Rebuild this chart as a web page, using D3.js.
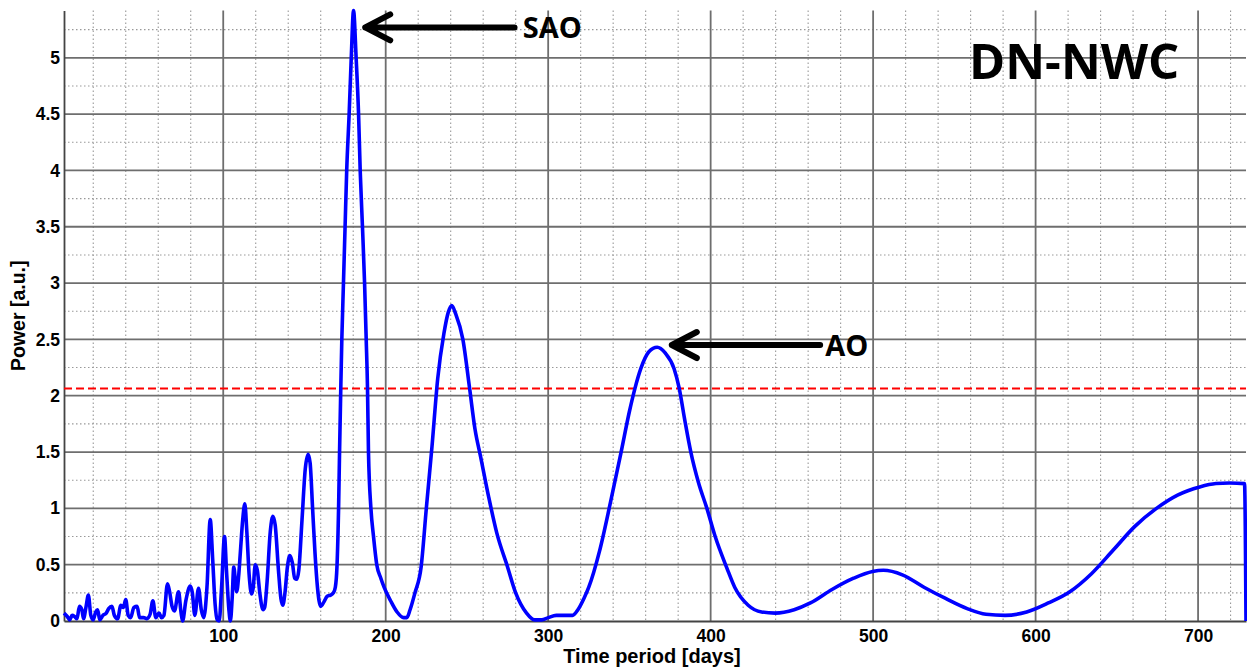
<!DOCTYPE html>
<html><head><meta charset="utf-8">
<script src="https://cdn.jsdelivr.net/npm/d3@7"></script>
<style>
html,body{margin:0;padding:0;background:#fff;}
svg{display:block;}
</style></head>
<body>
<svg id="chart" width="1247" height="671"></svg>
<script>
// ---- data ----
const periods = [2,4,5.5,7,8.5,10,11.5,13,14,15.5,17,18.5,20,21.5,22.7,24,26,28,29.5,31.5,33,35,37,38.5,40,41.5,43,45,47,48.5,51,53,55,56.7,58.5,60.5,62,63.5,65.7,67,68.5,70,72.5,74,75,77,79.7,81,82.5,84.8,86.5,88,90,92,93.5,95,96.3,97.5,99,100.8,102,103.5,104.4,105.5,106.5,107.5,108.3,109.5,110.5,112,113.3,114.5,116,117.5,118.5,119.7,121,122.5,124.5,125.5,127,129,130.6,132,134,135.5,136.7,138,139.5,141,142.5,144,145.3,146.5,148.5,150.5,152.3,153.5,155,156.5,158,160,162,164,166,167.8,169,170,171,171.6,172.4,173,174,175,176,177.5,178.8,180.2,181.8,183.3,184.3,185.7,187,188,188.8,189.4,190.9,192.5,194.5,197,199,203,207,211,213,215,218,221.8,225,228.5,232,235.8,238.5,240.7,243,247.5,251.6,255,258.4,263.4,268.4,275,280,286.7,291.7,296,300,305,311,315,318.3,322,325,331.6,338.3,344.9,350,353.5,357,362,367.1,372,377.5,380.6,384,387.8,392.5,397.7,402.8,410,414.8,423.1,431.4,439.8,451.4,461.4,474.7,488,499.7,506.3,518,531.3,544.6,557.9,569.5,581.2,594.5,607.8,621.1,634.4,647.8,661.1,674.4,687.7,701,711,719.3,728.6,729.5];
const power   = [0.07,0.04,0.01,0.05,0.04,0.02,0.13,0.1,0.02,0.12,0.23,0.05,0.01,0.08,0.10,0.01,0.05,0.07,0.11,0.13,0.05,0.02,0.14,0.12,0.19,0.05,0.03,0.12,0.13,0.03,0.03,0.02,0.06,0.18,0.03,0.07,0.03,0.05,0.33,0.26,0.13,0.09,0.26,0.08,0.0,0.18,0.31,0.25,0.05,0.29,0.1,0.03,0.3,0.9,0.55,0.15,0.01,0.0,0.3,0.75,0.45,0.1,0.0,0.2,0.48,0.35,0.26,0.4,0.6,0.9,1.04,0.8,0.4,0.24,0.3,0.5,0.45,0.25,0.1,0.12,0.35,0.8,0.93,0.85,0.45,0.2,0.14,0.25,0.48,0.58,0.52,0.38,0.37,0.45,0.9,1.35,1.48,1.4,1.0,0.6,0.3,0.13,0.17,0.22,0.23,0.25,0.3,0.48,1.0,1.5,2.1,2.5,3.0,3.5,4.0,4.5,5.0,5.42,5.0,4.5,4.0,3.5,3.0,2.5,2.07,1.5,1.0,0.75,0.5,0.38,0.3,0.18,0.08,0.03,0.03,0.1,0.25,0.48,1.0,1.55,2.15,2.55,2.74,2.8,2.73,2.5,2.07,1.7,1.46,1.1,0.78,0.48,0.25,0.07,0.01,0.01,0.03,0.05,0.05,0.05,0.1,0.2,0.3,0.62,1.05,1.5,1.86,2.07,2.24,2.39,2.43,2.38,2.24,2.07,1.79,1.5,1.23,1.0,0.75,0.47,0.3,0.14,0.08,0.07,0.1,0.16,0.28,0.38,0.44,0.45,0.41,0.3,0.2,0.11,0.06,0.05,0.08,0.16,0.26,0.42,0.63,0.84,1.0,1.12,1.19,1.22,1.225,1.22,0.0];
const threshold = 2.065;
const xTicks = [100,200,300,400,500,600,700];
const yTicks = [0,0.5,1,1.5,2,2.5,3,3.5,4,4.5,5];
const xMinor = [20,40,60,80,120,140,160,180,220,240,260,280,320,340,360,380,420,440,460,480,520,540,560,580,620,640,660,680,720];
const yMinor = [0.25,0.75,1.25,1.75,2.25,2.75,3.25,3.75,4.25,4.75,5.25];
const xLabel = "Time period [days]";
const yLabel = "Power [a.u.]";
const title = "DN-NWC";
const annotations = [
  {label:"SAO", tipX:187.4, y:5.27, tailX:279.3, textX:284.3, textY:5.175},
  {label:"AO",  tipX:376.1, y:2.45, tailX:467.4, textX:470.5, textY:2.352}
];

// ---- chart ----
const svg = d3.select("#chart");
const L = 64, R = 1246, T = 10.5, B = 621;
const x = d3.scaleLinear().domain([2, 729.5]).range([L, R]);
const y = d3.scaleLinear().domain([0, 5.42]).range([B, T]);
const tickFont = "'Liberation Sans', Arial, sans-serif";
const annFont = "'Open Sans', 'Noto Sans', sans-serif";

const g = svg.append("g");
// minor grid
g.append("g").selectAll("line").data(xMinor).join("line")
  .attr("x1", d => x(d)).attr("x2", d => x(d)).attr("y1", T).attr("y2", B)
  .attr("stroke", "#999").attr("stroke-width", 1.1).attr("stroke-dasharray", "1.5,2.5");
g.append("g").selectAll("line").data(yMinor).join("line")
  .attr("x1", L).attr("x2", R).attr("y1", d => y(d)).attr("y2", d => y(d))
  .attr("stroke", "#999").attr("stroke-width", 1.1).attr("stroke-dasharray", "1.5,2.5");
// major grid
g.append("g").selectAll("line").data(xTicks).join("line")
  .attr("x1", d => x(d)).attr("x2", d => x(d)).attr("y1", T).attr("y2", B)
  .attr("stroke", "#6e6e6e").attr("stroke-width", 1.8);
g.append("g").selectAll("line").data(yTicks.filter(d => d > 0)).join("line")
  .attr("x1", L).attr("x2", R).attr("y1", d => y(d)).attr("y2", d => y(d))
  .attr("stroke", "#6e6e6e").attr("stroke-width", 1.8);

// axes via d3
const xAxis = d3.axisBottom(x).tickValues(xTicks).tickSize(0).tickPadding(9).tickFormat(d3.format("d"));
const yAxis = d3.axisLeft(y).tickValues(yTicks).tickSize(0).tickPadding(4).tickFormat(d => String(d));
const gx = svg.append("g").attr("transform", `translate(0,${B})`).call(xAxis);
const gy = svg.append("g").attr("transform", `translate(${L},0)`).call(yAxis);
[gx, gy].forEach(a => {
  a.select(".domain").attr("stroke", "#444").attr("stroke-width", 1.8);
  a.selectAll("text").attr("font-family", tickFont).attr("font-weight", "bold")
    .attr("font-size", 17.5).attr("fill", "#000");
});

// threshold
svg.append("line").attr("x1", L).attr("x2", R).attr("y1", y(threshold)).attr("y2", y(threshold))
  .attr("stroke", "#ff0000").attr("stroke-width", 2).attr("stroke-dasharray", "8,4");

// spectrum
const pts = periods.map((p, i) => [p, power[i]]);
const line = d3.line().x(d => x(d[0])).y(d => y(d[1])).curve(d3.curveMonotoneX);
svg.append("path").datum(pts).attr("d", line).attr("fill", "none")
  .attr("stroke", "#0000ff").attr("stroke-width", 3.6).attr("stroke-linejoin", "round");

// labels
svg.append("text").attr("x", (L + R) / 2 - 3).attr("y", 663).attr("text-anchor", "middle")
  .attr("font-family", tickFont).attr("font-weight", "bold").attr("font-size", 20).text(xLabel);
svg.append("text").attr("transform", `translate(25,${(T + B) / 2}) rotate(-90)`).attr("text-anchor", "middle")
  .attr("font-family", tickFont).attr("font-weight", "bold").attr("font-size", 19.5).text(yLabel);

// annotations
annotations.forEach(a => {
  const tx = x(a.tipX), ty = y(a.y), ex = x(a.tailX);
  svg.append("path")
    .attr("d", `M${ex},${ty}L${tx},${ty}M${tx + 25},${ty - 13}L${tx},${ty}L${tx + 25},${ty + 13}`)
    .attr("fill", "none").attr("stroke", "#000").attr("stroke-width", 6)
    .attr("stroke-linecap", "round").attr("stroke-linejoin", "round");
  svg.append("text").attr("x", x(a.textX)).attr("y", y(a.textY))
    .attr("font-family", annFont).attr("font-weight", "bold").attr("font-size", 29).text(a.label);
});
svg.append("text").attr("x", 969).attr("y", 79)
  .attr("font-family", annFont).attr("font-weight", "bold").attr("font-size", 49).text(title);
</script>
</body></html>
